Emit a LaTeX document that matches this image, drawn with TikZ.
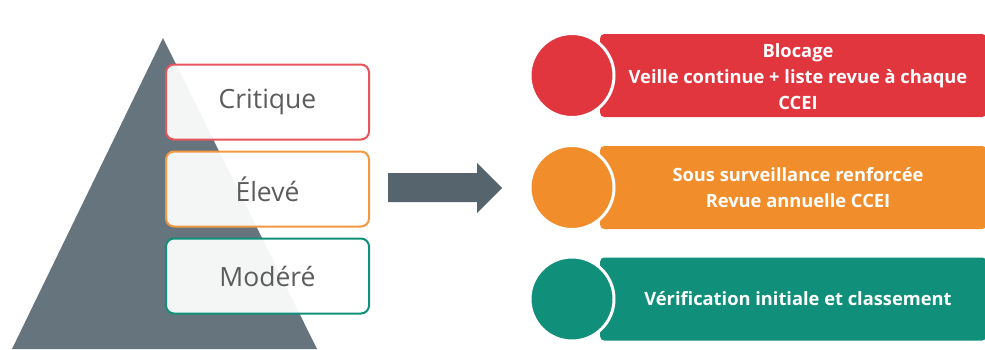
\documentclass[tikz,border=0pt]{standalone}
\usepackage{fontspec}
\setmainfont{Open Sans}
\usepackage{tikz}
\usetikzlibrary{positioning}

\definecolor{rouge}{HTML}{E2363F}
\definecolor{orange}{HTML}{F28D2B}
\definecolor{vert}{HTML}{10907A}
\definecolor{ardoise}{HTML}{66747E}
\definecolor{fleche}{HTML}{56646E}
\definecolor{gristexte}{HTML}{5C5C5C}

\begin{document}
\begin{tikzpicture}[x=1pt,y=-1pt,
  niveau/.style={draw,line width=2pt,rounded corners=8pt,fill=white,fill opacity=.93,text opacity=1,
    minimum width=203pt,minimum height=75pt,text=gristexte,font=\fontsize{26.5}{30}\selectfont},
  pastille/.style={circle,draw=white,line width=3pt,minimum size=84pt,inner sep=0pt},
  bandeau/.style={rounded corners=4pt,minimum width=386pt,minimum height=83pt,anchor=west},
  consigne/.style={text=white,font=\bfseries\fontsize{18.3}{26}\selectfont,align=center}]
\useasboundingbox (0,0) rectangle (985,349);

% pyramide
\fill[ardoise] (163,38) -- (317,349) -- (12,349) -- cycle;

\node[niveau,draw=rouge!85!white] (crit) at (267.5,102) {Critique};
\node[niveau,draw=orange!90!white,below=10pt of crit] (elev) {Élevé};
\node[niveau,draw=vert,below=10pt of elev] (mod) {Modéré};

\fill[fleche] (388,173) -- (477,173) -- (477,163) -- (502,188) -- (477,213) -- (477,202) -- (388,202) -- cycle;

\begin{scope}
\node[bandeau,fill=rouge] (bloc) at (600,75.5) {};
\node[pastille,fill=rouge] (pRouge) at (572,75.5) {};
\node[consigne] (tBloc) at (798,77) {Blocage\\Veille continue + liste revue à chaque\\CCEI};
\end{scope}

\begin{scope}
\node[bandeau,fill=orange] (surv) at (600,187.5) {};
\node[pastille,fill=orange] (pOrange) at (572,187.5) {};
\node[consigne] (tSurv) at (798,188) {Sous surveillance renforcée\\Revue annuelle CCEI};
\end{scope}

\begin{scope}
\node[bandeau,fill=vert] (verif) at (600,299) {};
\node[pastille,fill=vert] (pVert) at (572,299) {};
\node[consigne] (tVerif) at (798,299) {Vérification initiale et classement};
\end{scope}
\end{tikzpicture}
\end{document}
